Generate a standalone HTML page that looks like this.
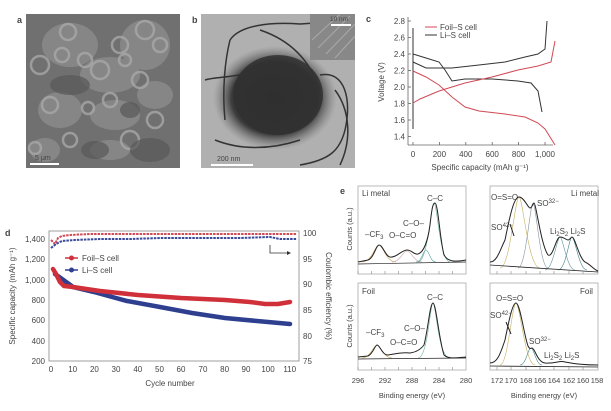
<!DOCTYPE html>
<html><head><meta charset="utf-8"><style>
html,body{margin:0;padding:0;background:#fff;}
svg{display:block;font-family:"Liberation Sans",sans-serif;}
text{fill:#444;}
</style></head><body>
<svg width="611" height="411" viewBox="0 0 611 411" xmlns="http://www.w3.org/2000/svg">
<defs>
<radialGradient id="blob" cx="50%" cy="50%" r="50%"><stop offset="0" stop-color="#2a2a2a"/><stop offset="0.7" stop-color="#3a3a3a"/><stop offset="1" stop-color="#777" stop-opacity="0"/></radialGradient>
</defs>
<!-- panel a -->
<text x="17" y="23" font-size="9" font-weight="bold" fill="#222">a</text>
<rect x="26" y="14" width="154" height="154" fill="#707070"/>
<g fill="#8c8c8c" opacity="0.8">
<ellipse cx="70" cy="45" rx="28" ry="22"/><ellipse cx="145" cy="45" rx="25" ry="25"/><ellipse cx="110" cy="75" rx="30" ry="18"/><ellipse cx="60" cy="110" rx="22" ry="18"/><ellipse cx="115" cy="115" rx="25" ry="15"/><ellipse cx="155" cy="95" rx="18" ry="14"/><ellipse cx="45" cy="150" rx="15" ry="12"/><ellipse cx="110" cy="150" rx="20" ry="10"/>
</g>
<g fill="none" stroke="#a8a8a8" stroke-width="2.5" opacity="0.8">
<circle cx="68" cy="32" r="8"/><circle cx="62" cy="55" r="7"/><circle cx="40" cy="65" r="9"/><circle cx="100" cy="70" r="9"/><circle cx="145" cy="30" r="9"/><circle cx="160" cy="45" r="7"/><circle cx="88" cy="108" r="6"/><circle cx="140" cy="80" r="8"/><circle cx="120" cy="45" r="8"/><circle cx="110" cy="100" r="7"/><circle cx="155" cy="120" r="8"/><circle cx="50" cy="105" r="8"/><circle cx="70" cy="140" r="7"/><circle cx="130" cy="140" r="9"/><circle cx="35" cy="148" r="6"/><circle cx="85" cy="60" r="7"/><circle cx="125" cy="60" r="6"/>
</g>
<g fill="#585858" opacity="0.7"><ellipse cx="70" cy="85" rx="20" ry="10"/><ellipse cx="150" cy="150" rx="20" ry="12"/><ellipse cx="95" cy="150" rx="14" ry="9"/><ellipse cx="130" cy="110" rx="10" ry="8"/></g>
<rect x="30" y="163" width="29" height="2" fill="#fff"/>
<text x="35" y="160" font-size="7" fill="#eee">5 μm</text>
<!-- panel b -->
<text x="192" y="23" font-size="9" font-weight="bold" fill="#222">b</text>
<rect x="201" y="14" width="154" height="154" fill="#b0b0b0"/>
<ellipse cx="275" cy="98" rx="62" ry="52" fill="url(#blob)"/>
<ellipse cx="278" cy="95" rx="45" ry="40" fill="#303030" opacity="0.85"/>
<g fill="none" stroke="#333" stroke-width="1.5"><path d="M230 40 C240 25 270 22 300 24 L330 22"/><path d="M230 40 C225 60 222 90 225 120"/><path d="M260 30 C290 40 310 60 320 90"/><path d="M320 75 C345 70 352 100 345 130 C340 150 330 160 300 165"/><path d="M205 80 C220 75 250 80 270 60"/><path d="M215 140 C240 150 270 150 300 140"/><path d="M335 90 C350 110 352 140 340 165"/></g>
<rect x="310" y="14" width="45" height="46" fill="#888"/>
<g stroke="#aaa" stroke-width="1"><line x1="312" y1="40" x2="340" y2="14"/><line x1="318" y1="48" x2="350" y2="16"/><line x1="326" y1="54" x2="355" y2="24"/><line x1="335" y1="58" x2="355" y2="36"/></g>
<rect x="331" y="24" width="20" height="2" fill="#fff"/>
<text x="330" y="21" font-size="6.5" fill="#eee">10 nm</text>
<rect x="211" y="164" width="42" height="2" fill="#fff"/>
<text x="217" y="161" font-size="7" fill="#eee">200 nm</text>
<!-- panel c -->
<text x="366" y="22" font-size="9" font-weight="bold" fill="#222">c</text>
<g stroke="#666" stroke-width="0.8" fill="none"><line x1="408" y1="17" x2="408" y2="145"/><line x1="408" y1="145" x2="553" y2="145"/></g>
<g stroke="#666" stroke-width="0.8">
<line x1="408" y1="21" x2="411" y2="21"/><line x1="408" y1="37.5" x2="411" y2="37.5"/><line x1="408" y1="54" x2="411" y2="54"/><line x1="408" y1="70.5" x2="411" y2="70.5"/><line x1="408" y1="87" x2="411" y2="87"/><line x1="408" y1="103.5" x2="411" y2="103.5"/><line x1="408" y1="120" x2="411" y2="120"/><line x1="408" y1="136.5" x2="411" y2="136.5"/>
<line x1="413" y1="145" x2="413" y2="142"/><line x1="439.4" y1="145" x2="439.4" y2="142"/><line x1="465.8" y1="145" x2="465.8" y2="142"/><line x1="492.2" y1="145" x2="492.2" y2="142"/><line x1="518.6" y1="145" x2="518.6" y2="142"/><line x1="545" y1="145" x2="545" y2="142"/>
</g>
<g font-size="8" text-anchor="end"><text x="405" y="24">2.8</text><text x="405" y="40.5">2.6</text><text x="405" y="57">2.4</text><text x="405" y="73.5">2.2</text><text x="405" y="90">2.0</text><text x="405" y="106.5">1.8</text><text x="405" y="123">1.6</text><text x="405" y="139.5">1.4</text></g>
<g font-size="8" text-anchor="middle"><text x="413" y="157">0</text><text x="439.4" y="157">200</text><text x="465.8" y="157">400</text><text x="492.2" y="157">600</text><text x="518.6" y="157">800</text><text x="545" y="157">1,000</text></g>
<text x="480" y="170" font-size="8" text-anchor="middle">Specific capacity (mAh g⁻¹)</text>
<text transform="translate(384,82) rotate(-90)" font-size="8" text-anchor="middle">Voltage (V)</text>
<line x1="425" y1="27" x2="437" y2="27" stroke="#d04a55" stroke-width="1"/><text x="440" y="30" font-size="8">Foil–S cell</text>
<line x1="425" y1="35" x2="437" y2="35" stroke="#333" stroke-width="1"/><text x="440" y="38" font-size="8">Li–S cell</text>
<g fill="none" stroke-width="1">
<polyline stroke="#333" points="413,129 413,28"/>
<polyline stroke="#333" points="413,62 426,68 439,68 452,68 479,65 505,62 525,57 538,54 545,49 547,21"/>
<polyline stroke="#333" points="413,54 426,58 439,62 445,70 452,81 465,79 492,79 518,81 531,83 538,91 542,112"/>
<polyline stroke="#d04a55" points="413,71 426,77 439,85 452,97 465,107 479,111 505,114 525,117 538,123 545,129 555,145"/>
<polyline stroke="#d04a55" points="413,103 420,99 439,91 465,83 492,77 518,70 538,66 551,62 555,41"/>
</g>
<!-- panel d -->
<text x="5" y="236" font-size="9" font-weight="bold" fill="#222">d</text>
<rect x="49" y="231" width="250" height="130" fill="none" stroke="#888" stroke-width="0.8"/>
<g font-size="8" text-anchor="end"><text x="45" y="242">1,400</text><text x="45" y="262">1,200</text><text x="45" y="283">1,000</text><text x="45" y="303">800</text><text x="45" y="323">600</text><text x="45" y="344">400</text><text x="45" y="364">200</text></g>
<g font-size="8"><text x="303" y="236">100</text><text x="303" y="262">95</text><text x="303" y="287">90</text><text x="303" y="313">85</text><text x="303" y="339">80</text><text x="303" y="364">75</text></g>
<g font-size="8" text-anchor="middle"><text x="51" y="372">0</text><text x="72.7" y="372">10</text><text x="94.4" y="372">20</text><text x="116" y="372">30</text><text x="137.8" y="372">40</text><text x="159.5" y="372">50</text><text x="181" y="372">60</text><text x="203" y="372">70</text><text x="224.6" y="372">80</text><text x="246" y="372">90</text><text x="268" y="372">100</text><text x="289.7" y="372">110</text></g>
<text x="170" y="386" font-size="8" text-anchor="middle">Cycle number</text>
<text transform="translate(15,296) rotate(-90)" font-size="8" text-anchor="middle">Specific capacity (mAh g⁻¹)</text>
<text transform="translate(326,296) rotate(90)" font-size="8" text-anchor="middle">Coulombic efficiency (%)</text>
<polyline fill="none" stroke="#d04a55" stroke-width="2" stroke-dasharray="2.5 1" points="51,240 55,244 58,238 62,236 70,235 90,234 120,234 160,234 200,234 240,234 270,234 297,234"/>
<polyline fill="none" stroke="#3a4a9a" stroke-width="2" stroke-dasharray="2.5 1" points="51,248 56,244 62,241 75,240 100,239 130,239 160,238 200,238 240,238 270,237 280,239 297,239"/>
<polyline fill="none" stroke="#2f3f8f" stroke-width="4.5" stroke-linecap="round" points="55,274 62,279 73,287 94,292 127,301 160,307 192,313 225,318 257,321 290,324"/>
<polyline fill="none" stroke="#d0303a" stroke-width="4.5" stroke-linecap="round" points="53,269 56,274 60,282 64,286 73,287 100,291 138,295 181,298 225,300 250,302 265,304 278,304 290,302"/>
<line x1="65" y1="258" x2="78" y2="258" stroke="#d0303a" stroke-width="1.5"/><circle cx="71.5" cy="258" r="2.5" fill="#d0303a"/><text x="82" y="261" font-size="8">Foil–S cell</text>
<line x1="65" y1="270" x2="78" y2="270" stroke="#2f3f8f" stroke-width="1.5"/><circle cx="71.5" cy="270" r="2.5" fill="#2f3f8f"/><text x="82" y="273" font-size="8">Li–S cell</text>
<polyline fill="none" stroke="#333" stroke-width="0.8" points="270,245 270,253 290,253"/><polygon points="291,253 287,251 287,255" fill="#333"/>
<!-- panel e -->
<text x="340" y="194" font-size="9" font-weight="bold" fill="#222">e</text>
<text transform="translate(352,229) rotate(-90)" font-size="7.5" text-anchor="middle">Counts (a.u.)</text>
<text transform="translate(352,326) rotate(-90)" font-size="7.5" text-anchor="middle">Counts (a.u.)</text>
<g fill="none" stroke="#aaa" stroke-width="0.8"><rect x="358" y="186" width="108" height="88"/><rect x="490" y="186" width="108" height="88"/><rect x="358" y="283" width="108" height="87"/><rect x="490" y="283" width="108" height="87"/></g>
<g font-size="8">
<text x="362" y="196">Li metal</text><text x="571" y="196">Li metal</text><text x="362" y="294">Foil</text><text x="580" y="294">Foil</text>
<text x="427" y="201">C–C</text><text x="403" y="226">C–O–</text><text x="389" y="238">O–C=O</text><text x="365" y="237">–CF<tspan font-size="6" dy="2">3</tspan></text>
<text x="427" y="300">C–C</text><text x="404" y="331">C–O–</text><text x="390" y="345">O–C=O</text><text x="366" y="335">–CF<tspan font-size="6" dy="2">3</tspan></text>
<text x="491" y="200">O=S=O</text><text x="537" y="206">SO<tspan font-size="6" dy="-3">3</tspan><tspan font-size="6" dy="0">2−</tspan></text><text x="491" y="230">SO<tspan font-size="6" dy="-3">4</tspan><tspan font-size="6">2−</tspan></text><text x="550" y="234">Li<tspan font-size="6" dy="2">2</tspan><tspan dy="-2">S</tspan><tspan font-size="6" dy="2">2</tspan><tspan dy="-2"> Li</tspan><tspan font-size="6" dy="2">2</tspan><tspan dy="-2">S</tspan></text>
<text x="496" y="301">O=S=O</text><text x="490" y="318">SO<tspan font-size="6" dy="-3">4</tspan><tspan font-size="6">2−</tspan></text><text x="529" y="344">SO<tspan font-size="6" dy="-3">3</tspan><tspan font-size="6">2−</tspan></text><text x="544" y="358">Li<tspan font-size="6" dy="2">2</tspan><tspan dy="-2">S</tspan><tspan font-size="6" dy="2">2</tspan><tspan dy="-2"> Li</tspan><tspan font-size="6" dy="2">2</tspan><tspan dy="-2">S</tspan></text>
</g>
<g fill="none" stroke-width="0.6">
<path stroke="#c8a050" d="M362,262 C372,262 375,245 379,245 C383,245 386,262 396,262"/>
<path stroke="#c8a0a0" d="M392,262 C400,262 403,251 407,251 C411,251 414,262 422,262"/>
<path stroke="#50a0a0" d="M416,262 C422,262 423,250 426,250 C429,250 430,262 436,262"/>
<path stroke="#70b0a0" d="M418,262 C428,262 431,203 434,203 C437,203 440,262 450,262"/>
<path stroke="#c8a050" d="M362,358 C370,358 374,345 377,345 C380,345 384,358 392,358"/>
<path stroke="#70b0a0" d="M418,358 C428,358 430,303 433,303 C436,303 438,358 450,358"/>
<path stroke="#c8b060" d="M500,268 C510,268 515,197 519,197 C523,197 528,268 540,268"/>
<path stroke="#8090a0" d="M518,268 C526,268 530,203 533,203 C536,203 540,268 548,268"/>
<path stroke="#6090a0" d="M545,270 C553,270 557,237 560,237 C563,237 567,270 575,270"/>
<path stroke="#408080" d="M558,270 C566,270 569,237 572,237 C575,237 579,270 587,270"/>
<path stroke="#c8b060" d="M500,365 C508,365 512,303 516,303 C520,303 525,365 535,365"/>
<path stroke="#408080" d="M520,365 C526,365 528,348 531,348 C534,348 536,365 542,365"/>
</g>
<g fill="none" stroke="#222" stroke-width="1">
<path d="M358,262 L368,260 C374,258 376,245 379,245 C383,245 385,256 390,257 C396,258 402,250 407,250 C412,250 414,255 418,254 C424,252 428,240 430,225 C432,207 433,203 435,203 C438,203 440,240 444,255 C448,262 455,262 466,260"/>
<line x1="358" y1="264" x2="466" y2="262" stroke-width="0.7"/>
<path d="M358,357 L368,356 C373,354 375,345 377,345 C380,345 382,355 388,355 C395,354 400,352 410,353 C416,352 420,350 424,345 C428,330 430,303 433,303 C436,303 439,340 444,355 C448,359 455,358 466,357"/>
<line x1="358" y1="359" x2="466" y2="358" stroke-width="0.7"/>
<path d="M490,262 C497,262 500,250 505,240 C510,215 514,197 519,197 C524,197 528,208 530,208 C532,208 533,203 534,203 C536,203 541,245 548,255 C553,258 556,237 560,237 C564,237 566,240 568,240 C570,240 571,237 572,237 C575,237 579,258 585,262 C590,264 594,270 598,271"/>
<line x1="490" y1="265" x2="598" y2="272" stroke-width="0.8"/>
<path d="M490,363 C497,363 500,355 505,340 C510,315 513,303 516,303 C520,303 524,335 528,346 C530,350 531,348 532,348 C535,348 537,362 545,363 C555,364 560,360 565,362 C575,364 585,365 598,365"/>
<line x1="490" y1="366" x2="598" y2="367" stroke-width="0.8"/>
<line x1="510" y1="224" x2="514" y2="236"/><line x1="506" y1="322" x2="511" y2="334"/>
</g>
<g stroke="#888" stroke-width="0.6">
<path d="M358,274v-3M371.5,274v-3M385,274v-3M398.5,274v-3M412,274v-3M425.5,274v-3M439,274v-3M452.5,274v-3M358,370v-3M371.5,370v-3M385,370v-3M398.5,370v-3M412,370v-3M425.5,370v-3M439,370v-3M452.5,370v-3"/>
<path d="M497,274v-3M511,274v-3M526,274v-3M540,274v-3M554,274v-3M569,274v-3M583,274v-3M497,370v-3M511,370v-3M526,370v-3M540,370v-3M554,370v-3M569,370v-3M583,370v-3"/>
</g>
<g font-size="7.5" text-anchor="middle"><text x="358" y="383">296</text><text x="385" y="383">292</text><text x="412" y="383">288</text><text x="439" y="383">284</text><text x="466" y="383">280</text>
<text x="497" y="383">172</text><text x="511" y="383">170</text><text x="526" y="383">168</text><text x="540" y="383">166</text><text x="554" y="383">164</text><text x="569" y="383">162</text><text x="583" y="383">160</text><text x="597" y="383">158</text></g>
<text x="412" y="398" font-size="7.5" text-anchor="middle">Binding energy (eV)</text>
<text x="544" y="398" font-size="7.5" text-anchor="middle">Binding energy (eV)</text>
</svg>
</body></html>
